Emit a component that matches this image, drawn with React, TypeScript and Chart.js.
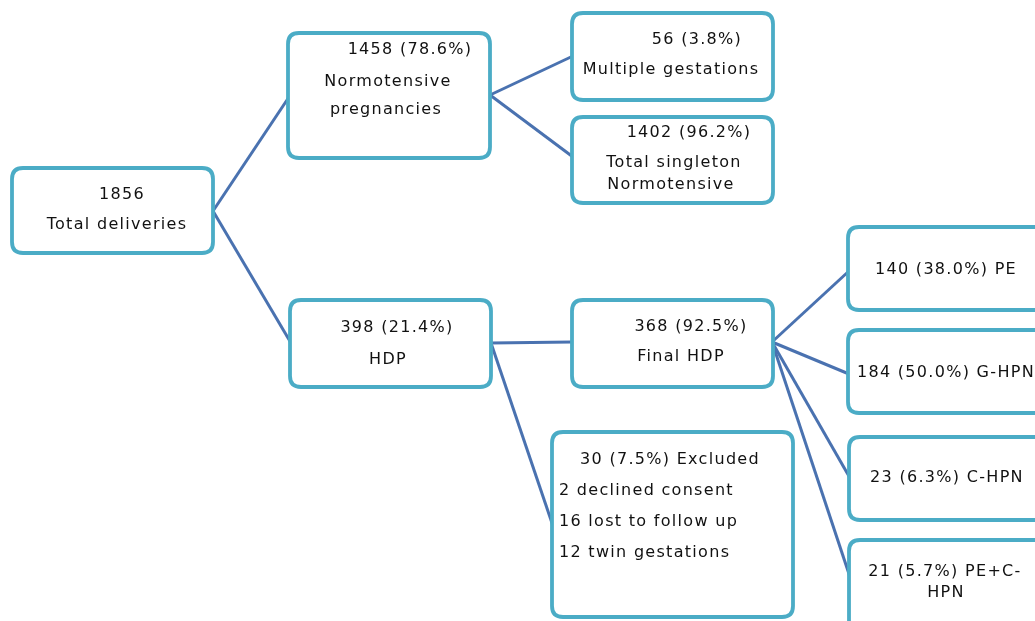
import React, { useEffect, useRef } from "react";
import { Chart, registerables } from "chart.js";

Chart.register(...registerables);

// ---- Data ----
const nodeNames: string[][] = [
  ["Total deliveries"],
  ["Normotensive", "pregnancies"],
  ["Multiple gestations"],
  ["Total singleton", "Normotensive"],
  ["HDP"],
  ["Final HDP"],
  ["Excluded"],
  ["PE"],
  ["G-HPN"],
  ["C-HPN"],
  ["PE+C-", "HPN"],
];
const nodeCounts = [1856, 1458, 56, 1402, 398, 368, 30, 140, 184, 23, 21];
const nodePercents: (number | null)[] = [null, 78.6, 3.8, 96.2, 21.4, 92.5, 7.5, 38.0, 50.0, 6.3, 5.7];
const exclusionCounts = [2, 16, 12];
const exclusionReasons = ["declined consent", "lost to follow up", "twin gestations"];
const links: [number, number][] = [
  [0, 1], [0, 4], [1, 2], [1, 3], [4, 5], [4, 6], [5, 7], [5, 8], [5, 9], [5, 10],
];
// how the name is laid out: "below" = count line then name lines; "inline" = name after count
const nameMode = ["below", "below", "below", "below", "below", "below", "inline", "inline", "inline", "inline", "inline"];

// ---- Layout (pixel-like data units) ----
const boxes: [number, number, number, number][] = [
  [12, 168, 213, 253],
  [288, 33, 490, 158],
  [572, 13, 773, 100],
  [572, 117, 773, 203],
  [290, 300, 491, 387],
  [572, 300, 773, 387],
  [552, 432, 793, 617],
  [848, 227, 1060, 310],
  [848, 330, 1060, 413],
  [849, 437, 1060, 520],
  [849, 540, 1060, 650],
];
const outAnchors: [number, number][] = [
  [213, 211], [490, 95], [0, 0], [0, 0], [491, 343], [772, 342], [0, 0], [0, 0], [0, 0], [0, 0], [0, 0],
];
const inAnchors: [number, number][] = [
  [0, 0], [289, 97], [573, 56], [573, 157], [291, 343], [572, 342], [553, 526], [849, 271], [849, 374], [850, 478], [850, 577],
];
// per text line: [x, y, align]
const textPos: [number, number, CanvasTextAlign][][] = [
  [[122, 195, "center"], [117, 225, "center"]],
  [[410, 50, "center"], [388, 82, "center"], [386, 110, "center"]],
  [[697, 40, "center"], [671, 70, "center"]],
  [[689, 133, "center"], [674, 163, "center"], [671, 185, "center"]],
  [[397, 328, "center"], [388, 360, "center"]],
  [[691, 327, "center"], [681, 357, "center"]],
  [[670, 460, "center"], [559, 491, "left"], [559, 522, "left"], [559, 553, "left"]],
  [[946, 270, "center"]],
  [[857, 373, "left"]],
  [[947, 478, "center"]],
  [[945, 572, "center"], [946, 593, "center"]],
];

function nodeLines(i: number): string[] {
  const head = nodePercents[i] == null ? `${nodeCounts[i]}` : `${nodeCounts[i]} (${nodePercents[i]!.toFixed(1)}%)`;
  if (nameMode[i] === "below") return [head, ...nodeNames[i]];
  const names = nodeNames[i];
  const out = [`${head} ${names[0]}`, ...names.slice(1)];
  if (i === 6) {
    exclusionCounts.forEach((c, k) => out.push(`${c} ${exclusionReasons[k]}`));
  }
  return out;
}

const BOX_COLOR = "#4bacc6";
const LINK_COLOR = "#4a72b0";

function roundRect(ctx: CanvasRenderingContext2D, x0: number, y0: number, x1: number, y1: number, r: number) {
  ctx.beginPath();
  ctx.moveTo(x0 + r, y0);
  ctx.lineTo(x1 - r, y0);
  ctx.quadraticCurveTo(x1, y0, x1, y0 + r);
  ctx.lineTo(x1, y1 - r);
  ctx.quadraticCurveTo(x1, y1, x1 - r, y1);
  ctx.lineTo(x0 + r, y1);
  ctx.quadraticCurveTo(x0, y1, x0, y1 - r);
  ctx.lineTo(x0, y0 + r);
  ctx.quadraticCurveTo(x0, y0, x0 + r, y0);
  ctx.closePath();
}

const boxPlugin = {
  id: "flowBoxes",
  afterDatasetsDraw(chart: any) {
    const ctx: CanvasRenderingContext2D = chart.ctx;
    const xs = chart.scales.x;
    const ys = chart.scales.y;
    ctx.save();
    boxes.forEach((b, i) => {
      const x0 = xs.getPixelForValue(b[0]);
      const x1 = xs.getPixelForValue(b[2]);
      const y0 = ys.getPixelForValue(b[1]);
      const y1 = ys.getPixelForValue(b[3]);
      roundRect(ctx, x0, y0, x1, y1, 11);
      ctx.fillStyle = "#ffffff";
      ctx.fill();
      ctx.lineWidth = 3.8;
      ctx.strokeStyle = BOX_COLOR;
      ctx.stroke();
      const lines = nodeLines(i);
      ctx.fillStyle = "#111111";
      ctx.font = "16px 'DejaVu Sans', sans-serif";
      (ctx as any).letterSpacing = "1.3px";
      ctx.textBaseline = "middle";
      lines.forEach((t, k) => {
        const p = textPos[i][k];
        if (!p) return;
        ctx.textAlign = p[2];
        ctx.fillText(t, xs.getPixelForValue(p[0]), ys.getPixelForValue(p[1]));
      });
    });
    ctx.restore();
  },
};

export default function App() {
  const ref = useRef<HTMLCanvasElement | null>(null);
  useEffect(() => {
    if (!ref.current) return;
    const datasets = links.map(([a, b]) => ({
      type: "line" as const,
      data: [
        { x: outAnchors[a][0], y: outAnchors[a][1] },
        { x: inAnchors[b][0], y: inAnchors[b][1] },
      ],
      borderColor: LINK_COLOR,
      borderWidth: 3,
      pointRadius: 0,
      showLine: true,
      fill: false,
      clip: false as any,
    }));
    const chart = new Chart(ref.current, {
      type: "scatter",
      data: { datasets },
      options: {
        animation: false,
        responsive: false,
        maintainAspectRatio: false,
        layout: { padding: 0 },
        plugins: { legend: { display: false }, tooltip: { enabled: false } },
        scales: {
          x: { type: "linear", min: 0, max: 1035, display: false },
          y: { type: "linear", min: 0, max: 621, reverse: true, display: false },
        },
      },
      plugins: [boxPlugin],
    });
    return () => chart.destroy();
  }, []);
  return (
    <div style={{ position: "fixed", left: 0, top: 0, width: 1035, height: 621, background: "#fff" }}>
      <canvas ref={ref} width={1035} height={621} style={{ display: "block" }} />
    </div>
  );
}
